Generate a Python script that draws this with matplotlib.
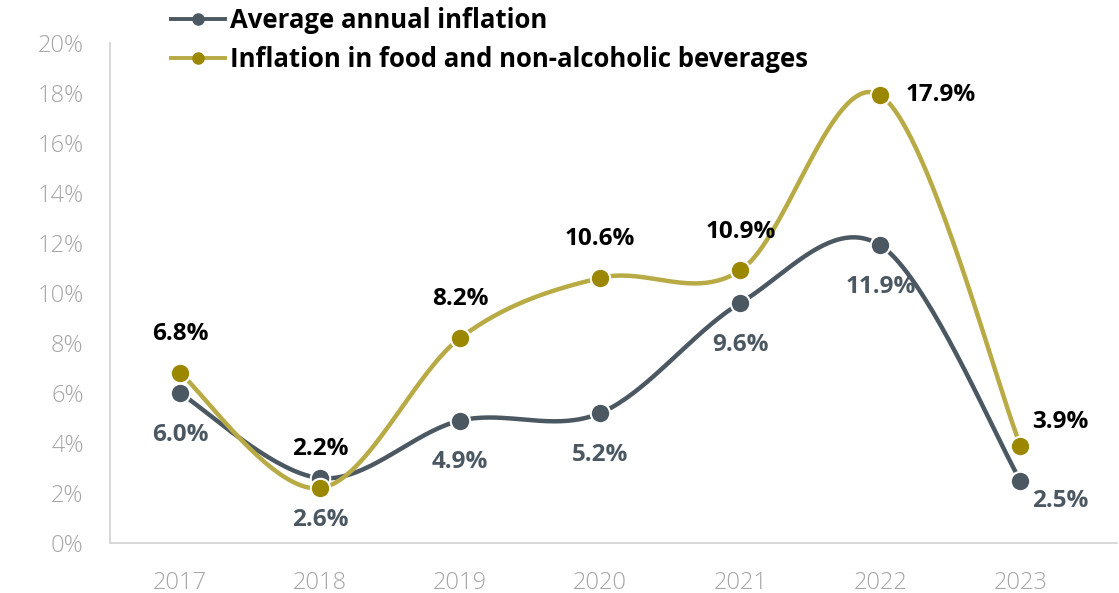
import numpy as np
import matplotlib.pyplot as plt
from matplotlib.lines import Line2D

years = [2017, 2018, 2019, 2020, 2021, 2022, 2023]
avg_inflation = [6.0, 2.6, 4.9, 5.2, 9.6, 11.9, 2.5]
food_inflation = [6.8, 2.2, 8.2, 10.6, 10.9, 17.9, 3.9]
yticks = [0, 2, 4, 6, 8, 10, 12, 14, 16, 18, 20]

GREY = "#4b5862"
GOLD_LINE = "#b8aa45"
GOLD_DOT = "#9c8800"
FONT = ["Open Sans", "DejaVu Sans"]


def smooth(x, y, n=40):
    # Catmull-Rom spline through the points
    x = np.asarray(x, float)
    y = np.asarray(y, float)
    px = np.concatenate([[x[0]], x, [x[-1]]])
    py = np.concatenate([[y[0]], y, [y[-1]]])
    xs, ys = [], []
    t = np.linspace(0, 1, n)
    for i in range(1, len(px) - 2):
        for p, out in ((px, xs), (py, ys)):
            p0, p1, p2, p3 = p[i - 1], p[i], p[i + 1], p[i + 2]
            m1 = (p2 - p0) / 2
            m2 = (p3 - p1) / 2
            h00 = 2 * t**3 - 3 * t**2 + 1
            h10 = t**3 - 2 * t**2 + t
            h01 = -2 * t**3 + 3 * t**2
            h11 = t**3 - t**2
            out.extend(h00 * p1 + h10 * m1 + h01 * p2 + h11 * m2)
    return np.array(xs), np.array(ys)


fig = plt.figure(figsize=(11.19, 5.93), dpi=100)
ax = fig.add_axes([0.0983, 0.084, 0.9, 0.844])

for vals, lc, mc in ((avg_inflation, GREY, GREY), (food_inflation, GOLD_LINE, GOLD_DOT)):
    sx, sy = smooth(years, vals)
    ax.plot(sx, sy, color=lc, lw=3.2, zorder=2, solid_capstyle="round")
    ax.plot(years, vals, "o", ms=14, color=mc, mec="white", mew=1.5, zorder=3)

lab = dict(fontsize=17.5, fontweight="bold", family=FONT)
# label offsets in points, text anchored by its centre unless noted
offsets = {
    "above": ((0, 28), "center"),
    "below": ((0, -30), "center"),
    "right": ((18, 0), "left"),
    "upright": ((29, 17), "center"),
    "downright": ((29, -15), "center"),
}
food_pos = ["above", "above", "above", "above", "above", "right", "upright"]
avg_pos = ["below", "below", "below", "below", "below", "below", "downright"]
for y, a, f, pa, pf in zip(years, avg_inflation, food_inflation, avg_pos, food_pos):
    for v, p, c in ((f, pf, "black"), (a, pa, GREY)):
        off, ha = offsets[p]
        ax.annotate(f"{v:.1f}%", (y, v), xytext=off, textcoords="offset points",
                    ha=ha, va="center", color=c, zorder=4, **lab)

ax.set_xlim(2016.5, 2023.69)
ax.set_ylim(0, 20)
ax.set_xticks(years)
ax.set_yticks(yticks)
ax.set_yticklabels([f"{t}%" for t in yticks])
for s in ("top", "right"):
    ax.spines[s].set_visible(False)
for s in ("left", "bottom"):
    ax.spines[s].set_color("#d6d6d6")
    ax.spines[s].set_linewidth(1.3)
ax.tick_params(length=0, labelsize=17, labelcolor="#a6a6a6")
ax.tick_params(axis="y", pad=19)
ax.tick_params(axis="x", pad=20)
for t in ax.get_xticklabels() + ax.get_yticklabels():
    t.set_family(FONT)
    t.set_fontweight(300)

handles = [
    Line2D([], [], color=GREY, lw=2.8, marker="o", ms=8, mfc=GREY, mec=GREY),
    Line2D([], [], color=GOLD_LINE, lw=2.8, marker="o", ms=8, mfc=GOLD_DOT, mec=GOLD_DOT),
]
fig.legend(handles, ["Average annual inflation", "Inflation in food and non-alcoholic beverages"],
           loc="upper left", bbox_to_anchor=(0.132, 1.027), frameon=False,
           handlelength=2.1, handletextpad=0.2, labelspacing=0.45,
           prop=dict(size=18.5, weight="bold", family=FONT))

fig.savefig("out.png", dpi=100)
